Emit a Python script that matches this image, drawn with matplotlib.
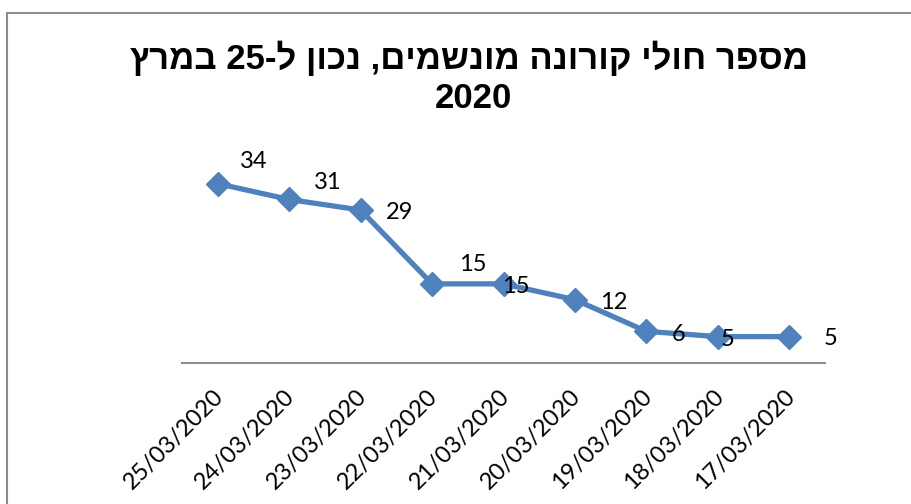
import re
import matplotlib
matplotlib.use("Agg")
import matplotlib.pyplot as plt
import matplotlib.transforms as mtransforms
from matplotlib.patches import Rectangle

dates = ["25/03/2020", "24/03/2020", "23/03/2020", "22/03/2020", "21/03/2020",
         "20/03/2020", "19/03/2020", "18/03/2020", "17/03/2020"]
ventilated = [34, 31, 29, 15, 15, 12, 6, 5, 5]
# label offsets (points) relative to each data point, as placed in the original
label_dx = [26, 28, 28, 29, 9, 28, 23, 7, 30]
label_dy = [16, 12, -2, 14, -2, -2, -2, -2, -1]

title_line1 = "מספר חולי קורונה מונשמים, נכון ל-25 במרץ"
title_line2 = "2020"


def visual(s):
    r = s[::-1]
    return re.sub(r"\d+", lambda m: m.group(0)[::-1], r)


fig = plt.figure(figsize=(9.12, 5.04), dpi=100)
fig.patch.set_facecolor("white")
fig.patches.append(Rectangle((7 / 912, -0.05), 1.2, 1 - 13 / 504 + 0.05,
                             transform=fig.transFigure, fill=False,
                             edgecolor="#8c8c8c", linewidth=1.5))

ax = fig.add_axes([182 / 912, 1 - 363 / 504, (825 - 182) / 912, (363 - 152) / 504])
x = list(range(len(dates)))
ax.plot(x, ventilated, color="#4F81BD", linewidth=3.8, marker="D",
        markersize=12, markeredgecolor="#4F81BD", markerfacecolor="#4F81BD",
        solid_joinstyle="round")
ax.set_xlim(-0.5, len(dates) - 0.5)
ax.set_ylim(0, 40)
for xi, v, dx, dy in zip(x, ventilated, label_dx, label_dy):
    ax.annotate(str(v), (xi, v), xytext=(dx, dy), textcoords="offset points",
                ha="center", va="center", fontsize=17, family="Lato", color="black")

ax.set_xticks(x)
ax.set_xticklabels(dates, rotation=45, ha="right", rotation_mode="anchor",
                   fontsize=17, family="Lato")
ax.tick_params(axis="x", length=0, pad=14)
shift = mtransforms.ScaledTranslation(-5 / 100, -3 / 100, fig.dpi_scale_trans)
for lbl in ax.get_xticklabels():
    lbl.set_transform(lbl.get_transform() + shift)
ax.set_yticks([])
for s in ["left", "right", "top"]:
    ax.spines[s].set_visible(False)
ax.spines["bottom"].set_color("#8c8c8c")
ax.spines["bottom"].set_linewidth(1.5)
ax.set_facecolor("none")

fig.text(469 / 912, 1 - 58 / 504, visual(title_line1), ha="center", va="center",
         fontsize=25, fontweight="bold", family=["Liberation Sans", "DejaVu Sans"])
fig.text(473 / 912, 1 - 99 / 504, title_line2, ha="center", va="center",
         fontsize=25, fontweight="bold", family=["Liberation Sans", "DejaVu Sans"])

fig.savefig("out.png", dpi=100, facecolor="white")
